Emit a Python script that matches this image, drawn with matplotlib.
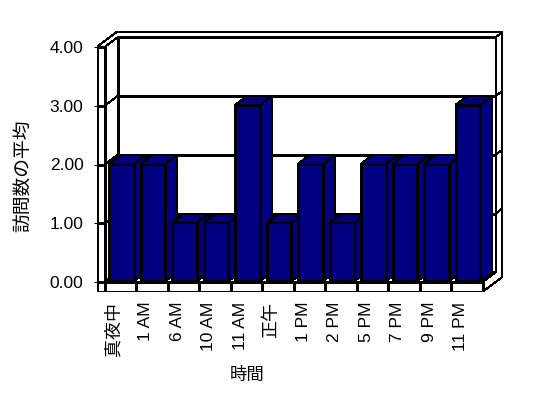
import numpy as np
import matplotlib
matplotlib.use('Agg')
import matplotlib.pyplot as plt
from matplotlib.patches import Polygon
from matplotlib.transforms import ScaledTranslation

# data
categories = ['真夜中', '1 AM', '6 AM', '10 AM', '11 AM', '正午',
              '1 PM', '2 PM', '5 PM', '7 PM', '9 PM', '11 PM']
visits = [2, 2, 1, 1, 3, 1, 2, 1, 2, 2, 2, 3]
y_ticks = [0, 1, 2, 3, 4]

plt.rcParams['font.family'] = ['Liberation Sans', 'Noto Sans CJK JP']

W, H = 548, 398
fig = plt.figure(figsize=(W / 100, H / 100), dpi=100)

# geometry of the front plane, in pixels
x0_px, sx = 104.7, 31.5     # left of floor, px per category
y0_px, sy = 282.0, 58.75    # zero line, px per unit
dx, dy = 13 / sx, 9.7 / sy  # depth vector in data units
t = 0.52                    # back wall thickness (fraction of depth)
wl = 8 / sx                 # left wall thickness
fl = 9.7 / sy               # floor thickness
n = len(categories)
ymax = y_ticks[-1]
lw = 0.75

xlim = (-wl, n + (1 + t) * dx + 0.03)
ylim = (-fl, ymax + (1 + t) * dy + 0.03)
left = x0_px + xlim[0] * sx
right = x0_px + xlim[1] * sx
top = y0_px - ylim[1] * sy
bottom = y0_px - ylim[0] * sy
ax = fig.add_axes([left / W, 1 - bottom / H, (right - left) / W, (bottom - top) / H])
ax.set_xlim(xlim)
ax.set_ylim(ylim)
for s in ax.spines.values():
    s.set_visible(False)


def poly(pts, fc='white', z=1):
    ax.add_patch(Polygon(pts, closed=True, facecolor=fc, edgecolor='black',
                         lw=lw, zorder=z, antialiased=False))


def line(xs, ys, z=1.5):
    ax.plot(xs, ys, color='black', lw=lw, zorder=z, antialiased=False,
            solid_capstyle='butt')


Dx2, Dy2 = (1 + t) * dx, (1 + t) * dy

# walls and floor
poly([(dx, dy), (n + dx, dy), (n + dx, ymax + dy), (dx, ymax + dy)])
poly([(-wl, ymax), (0, ymax), (dx, ymax + dy), (n + dx, ymax + dy),
      (n + Dx2, ymax + Dy2), (-wl + Dx2, ymax + Dy2)])
poly([(n, -fl), (n, 0), (n + dx, dy), (n + dx, ymax + dy),
      (n + Dx2, ymax + Dy2), (n + Dx2, -fl + Dy2)])
poly([(0, 0), (0, ymax), (dx, ymax + dy), (dx, dy)])
poly([(0, 0), (n, 0), (n + dx, dy), (dx, dy)])
poly([(-wl, -fl), (0, -fl), (0, ymax), (-wl, ymax)])
poly([(0, -fl), (n, -fl), (n, 0), (0, 0)])

# gridlines wrapped around the walls
for v in y_ticks[1:-1]:
    line([dx, n + dx], [v + dy, v + dy])
    line([0, dx], [v, v + dy])
    line([n + dx, n + Dx2], [v + dy, v + Dy2])
for v in y_ticks[:-1]:
    line([-wl, 0], [v, v])
for k in range(1, n):
    line([k, k], [-fl, 0])

# bars: front face plus side and top
bw = 0.79
d0, d1 = 0.08, 1.0
dd = d1 - d0
bars = ax.bar(np.arange(n) + 0.5 + d0 * dx, visits, bw, bottom=d0 * dy,
              color='#000080', edgecolor='black', lw=lw)
for i, p in enumerate(bars.patches):
    xl, yb = p.get_x(), p.get_y()
    xr, yt = xl + p.get_width(), yb + p.get_height()
    z = 3 + 2 * i
    poly([(xr, yb), (xr + dd * dx, yb + dd * dy), (xr + dd * dx, yt + dd * dy), (xr, yt)],
         fc='#000080', z=z)
    poly([(xl, yt), (xr, yt), (xr + dd * dx, yt + dd * dy), (xl + dd * dx, yt + dd * dy)],
         fc='#000080', z=z)
    p.set_zorder(z + 1)
    p.set_antialiased(False)

# axes ticks and labels
ax.set_yticks(y_ticks, labels=[f'{v:.2f}' for v in y_ticks])
ax.tick_params(axis='y', length=2, width=lw, pad=7.5, labelsize=12.5)
ax.set_xticks(np.arange(n) + 0.5, labels=categories, rotation=90)
ax.tick_params(axis='x', length=0, pad=7.2, labelsize=12.5)
shift = ScaledTranslation(-6 / 100, 0, fig.dpi_scale_trans)
for lbl in ax.get_xticklabels():
    lbl.set_transform(lbl.get_transform() + shift)
    if any(ord(c) > 0x3000 for c in lbl.get_text()):
        lbl.set_fontsize(13)

fig.text(25 / W, 1 - 176 / H, '訪問数の平均', rotation=90, ha='center', va='center',
         fontsize=13.5)
fig.text(246.7 / W, 1 - 375 / H, '時間', ha='center', va='center', fontsize=12.5)

fig.savefig('out.png', dpi=100)
